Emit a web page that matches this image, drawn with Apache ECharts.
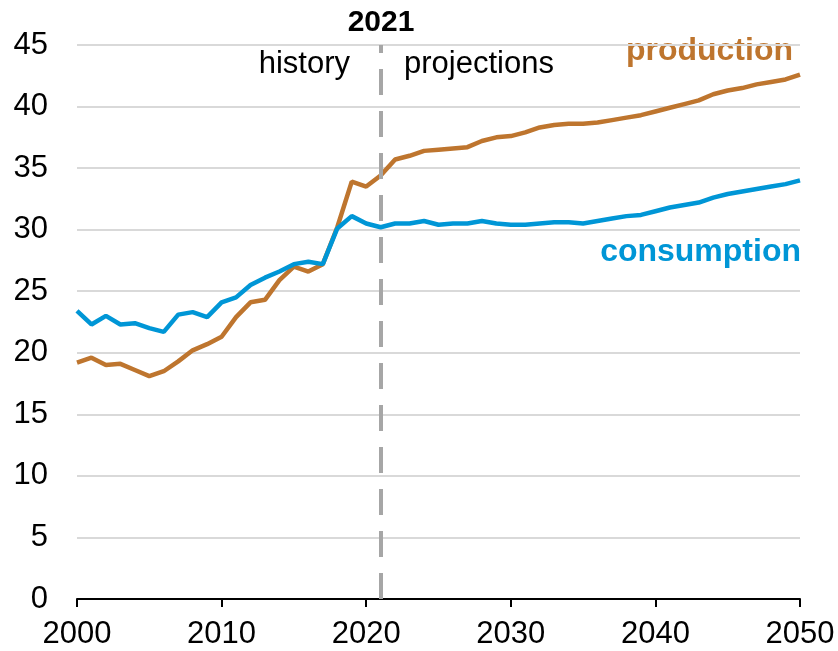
<!DOCTYPE html>
<html lang="en">
<head>
  <meta charset="UTF-8" />
  <title>production and consumption</title>
  <style>
    html, body { margin: 0; padding: 0; background: #fff; }
    #chart { width: 838px; height: 651px; }
  </style>
  <script src="https://cdn.jsdelivr.net/npm/echarts@6/dist/echarts.min.js"></script>
</head>
<body>
  <div id="chart"></div>
  <script>
    // years 2000..2050
    var years = [];
    for (var y = 2000; y <= 2050; y++) years.push(y);

    var production = [
      19.2, 19.6, 19.0, 19.1, 18.6, 18.1, 18.5, 19.3, 20.2, 20.7,
      21.3, 22.9, 24.1, 24.3, 25.9, 27.0, 26.6, 27.2, 30.2, 33.9,
      33.5, 34.4, 35.7, 36.0, 36.4, 36.5, 36.6, 36.7, 37.2, 37.5,
      37.6, 37.9, 38.3, 38.5, 38.6, 38.6, 38.7, 38.9, 39.1, 39.3,
      39.6, 39.9, 40.2, 40.5, 41.0, 41.3, 41.5, 41.8, 42.0, 42.2,
      42.6
    ];
    var consumption = [
      23.4, 22.3, 23.0, 22.3, 22.4, 22.0, 21.7, 23.1, 23.3, 22.9,
      24.1, 24.5, 25.5, 26.1, 26.6, 27.2, 27.4, 27.2, 30.1, 31.1,
      30.5, 30.2, 30.5, 30.5, 30.7, 30.4, 30.5, 30.5, 30.7, 30.5,
      30.4, 30.4, 30.5, 30.6, 30.6, 30.5, 30.7, 30.9, 31.1, 31.2,
      31.5, 31.8, 32.0, 32.2, 32.6, 32.9, 33.1, 33.3, 33.5, 33.7,
      34.0
    ];
    var splitYear = 2021;

    var brown = '#BE752E';
    var blue = '#0096D6';
    var font = '"Liberation Sans", Arial, sans-serif';

    function pairs(vals) {
      return vals.map(function (v, i) { return [years[i], v]; });
    }

    var chart = echarts.init(document.getElementById('chart'));
    chart.setOption({
      animation: false,
      grid: { left: 77, right: 38, top: 45, bottom: 52 },
      xAxis: {
        type: 'value',
        min: 2000, max: 2050, interval: 10,
        axisLine: { lineStyle: { color: '#000', width: 2 } },
        axisTick: { show: true, length: 8, lineStyle: { color: '#000', width: 2 } },
        axisLabel: {
          color: '#000', fontSize: 31, fontFamily: font, margin: 20,
          formatter: function (v) { return String(v); }
        },
        splitLine: { show: false }
      },
      yAxis: {
        type: 'value',
        min: 0, max: 45, interval: 5,
        axisLine: { show: false },
        axisTick: { show: false },
        axisLabel: { color: '#000', fontSize: 31, fontFamily: font, margin: 29 },
        splitLine: { lineStyle: { color: '#d9d9d9', width: 2 } }
      },
      series: [
        {
          name: 'production', type: 'line', data: pairs(production),
          showSymbol: false, lineStyle: { color: brown, width: 4.5 }, z: 3,
          markLine: {
            silent: true, symbol: 'none',
            lineStyle: { color: '#a6a6a6', width: 4, type: [26, 16] },
            label: { show: false },
            data: [[{ coord: [splitYear, 0] }, { coord: [splitYear, 45] }]]
          }
        },
        {
          name: 'consumption', type: 'line', data: pairs(consumption),
          showSymbol: false, lineStyle: { color: blue, width: 4.5 }, z: 4
        }
      ],
      graphic: [
        { type: 'text', x: 381, y: 23, style: { text: '2021', font: 'bold 30px ' + font, fill: '#000', textAlign: 'center', textVerticalAlign: 'middle' } },
        { type: 'text', x: 350, y: 64, style: { text: 'history', font: '31px ' + font, fill: '#000', textAlign: 'right', textVerticalAlign: 'middle' } },
        { type: 'text', x: 404, y: 64, style: { text: 'projections', font: '31px ' + font, fill: '#000', textAlign: 'left', textVerticalAlign: 'middle' } },
        { type: 'text', x: 793, y: 51, style: { text: 'production', font: 'bold 32px ' + font, fill: brown, textAlign: 'right', textVerticalAlign: 'middle' } },
        { type: 'text', x: 801, y: 252, style: { text: 'consumption', font: 'bold 32px ' + font, fill: blue, textAlign: 'right', textVerticalAlign: 'middle' } }
      ]
    });
  </script>
</body>
</html>
